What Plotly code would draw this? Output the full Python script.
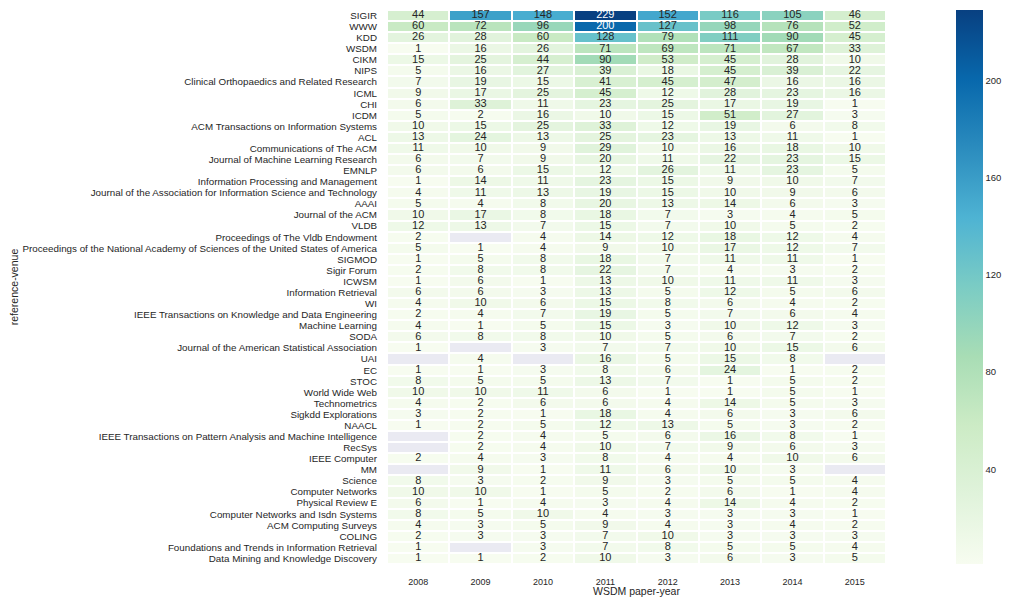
import plotly.graph_objects as go

years = ["2008", "2009", "2010", "2011", "2012", "2013", "2014", "2015"]

venues = [
    "SIGIR", "WWW", "KDD", "WSDM", "CIKM", "NIPS",
    "Clinical Orthopaedics and Related Research", "ICML", "CHI", "ICDM",
    "ACM Transactions on Information Systems", "ACL", "Communications of The ACM",
    "Journal of Machine Learning Research", "EMNLP",
    "Information Processing and Management",
    "Journal of the Association for Information Science and Technology",
    "AAAI", "Journal of the ACM", "VLDB", "Proceedings of The Vldb Endowment",
    "Proceedings of the National Academy of Sciences of the United States of America",
    "SIGMOD", "Sigir Forum", "ICWSM", "Information Retrieval", "WI",
    "IEEE Transactions on Knowledge and Data Engineering", "Machine Learning", "SODA",
    "Journal of the American Statistical Association", "UAI", "EC", "STOC",
    "World Wide Web", "Technometrics", "Sigkdd Explorations", "NAACL",
    "IEEE Transactions on Pattern Analysis and Machine Intelligence", "RecSys",
    "IEEE Computer", "MM", "Science", "Computer Networks", "Physical Review E",
    "Computer Networks and Isdn Systems", "ACM Computing Surveys", "COLING",
    "Foundations and Trends in Information Retrieval",
    "Data Mining and Knowledge Discovery",
]

counts = [
    [44, 157, 148, 229, 152, 116, 105, 46],
    [60, 72, 96, 200, 127, 98, 76, 52],
    [26, 28, 60, 128, 79, 111, 90, 45],
    [1, 16, 26, 71, 69, 71, 67, 33],
    [15, 25, 44, 90, 53, 45, 28, 10],
    [5, 16, 27, 39, 18, 45, 39, 22],
    [7, 19, 15, 41, 45, 47, 16, 16],
    [9, 17, 25, 45, 12, 28, 23, 16],
    [6, 33, 11, 23, 25, 17, 19, 1],
    [5, 2, 16, 10, 15, 51, 27, 3],
    [10, 15, 25, 33, 12, 19, 6, 8],
    [13, 24, 13, 25, 23, 13, 11, 1],
    [11, 10, 9, 29, 10, 16, 18, 10],
    [6, 7, 9, 20, 11, 22, 23, 15],
    [6, 6, 15, 12, 26, 11, 23, 5],
    [1, 14, 11, 23, 15, 9, 10, 7],
    [4, 11, 13, 19, 15, 10, 9, 6],
    [5, 4, 8, 20, 13, 14, 6, 3],
    [10, 17, 8, 18, 7, 3, 4, 5],
    [12, 13, 7, 15, 7, 10, 5, 2],
    [2, None, 4, 14, 12, 18, 12, 4],
    [5, 1, 4, 9, 10, 17, 12, 7],
    [1, 5, 8, 18, 7, 11, 11, 1],
    [2, 8, 8, 22, 7, 4, 3, 2],
    [1, 6, 1, 13, 10, 11, 11, 3],
    [6, 6, 3, 13, 5, 12, 5, 6],
    [4, 10, 6, 15, 8, 6, 4, 2],
    [2, 4, 7, 19, 5, 7, 6, 4],
    [4, 1, 5, 15, 3, 10, 12, 3],
    [6, 8, 8, 10, 5, 6, 7, 2],
    [1, None, 3, 7, 7, 10, 15, 6],
    [None, 4, None, 16, 5, 15, 8, None],
    [1, 1, 3, 8, 6, 24, 1, 2],
    [8, 5, 5, 13, 7, 1, 5, 2],
    [10, 10, 11, 6, 1, 1, 5, 1],
    [4, 2, 6, 6, 4, 14, 5, 3],
    [3, 2, 1, 18, 4, 6, 3, 6],
    [1, 2, 5, 12, 13, 5, 3, 2],
    [None, 2, 4, 5, 6, 16, 8, 1],
    [None, 2, 4, 10, 7, 9, 6, 3],
    [2, 4, 3, 8, 4, 4, 10, 6],
    [None, 9, 1, 11, 6, 10, 3, None],
    [8, 3, 2, 9, 3, 5, 5, 4],
    [10, 10, 1, 5, 2, 6, 1, 4],
    [6, 1, 4, 3, 4, 14, 4, 2],
    [8, 5, 10, 4, 3, 3, 3, 1],
    [4, 3, 5, 9, 4, 3, 4, 2],
    [2, 3, 3, 7, 10, 3, 3, 3],
    [1, None, 3, 7, 8, 5, 5, 4],
    [1, 1, 2, 10, 3, 6, 3, 5],
]

cbar_ticks = [40, 80, 120, 160, 200]

FONT = "Liberation Sans, Arial, sans-serif"
TXT = "#262626"

zmin = min(v for row in counts for v in row if v is not None)
zmax = max(v for row in counts for v in row if v is not None)

missing = [[1 if v is None else None for v in row] for row in counts]

fig = go.Figure()

fig.add_trace(go.Heatmap(
    z=missing, x=years, y=venues,
    colorscale=[[0, "#eaeaf2"], [1, "#eaeaf2"]],
    showscale=False, xgap=2, ygap=2, hoverinfo="skip",
))

fig.add_trace(go.Heatmap(
    z=counts, x=years, y=venues,
    colorscale="GnBu", zmin=zmin, zmax=zmax,
    xgap=2, ygap=2,
    colorbar=dict(
        thickness=27, len=1.0, lenmode="fraction",
        x=1.14, xanchor="left", xref="paper", y=0.5, yanchor="middle",
        outlinewidth=0, ticks="", tickvals=cbar_ticks,
        tickfont=dict(family=FONT, size=9.5, color=TXT),
        xpad=0, ypad=0,
    ),
))

# annotations as text
tx, ty, tt, tc = [], [], [], []
for i, row in enumerate(counts):
    for j, v in enumerate(row):
        if v is None:
            continue
        tx.append(years[j])
        ty.append(venues[i])
        tt.append(str(v))
        frac = (v - zmin) / (zmax - zmin)
        tc.append("white" if frac > 0.8 else TXT)

fig.add_trace(go.Scatter(
    x=tx, y=ty, text=tt, mode="text",
    textfont=dict(family=FONT, size=11, color=tc),
    hoverinfo="skip", showlegend=False, cliponaxis=False,
))

fig.update_layout(
    width=1000, height=589,
    margin=dict(l=379, r=122, t=2, b=33, autoexpand=False),
    plot_bgcolor="white", paper_bgcolor="white",
    font=dict(family=FONT, color=TXT),
    showlegend=False,
)
fig.update_xaxes(
    type="category", range=[-0.5, len(years) - 0.5], automargin=False,
    showgrid=False, zeroline=False, showline=False, ticks="",
    tickmode="array", tickvals=years,
    tickfont=dict(family=FONT, size=9, color=TXT),
    ticklabelstandoff=11,
    title=dict(text="WSDM paper-year", font=dict(family=FONT, size=10.5, color=TXT), standoff=4),
)
fig.update_yaxes(
    type="category", range=[len(venues) - 0.5, -0.5], automargin=False,
    showgrid=False, zeroline=False, showline=False, ticks="",
    tickmode="array", tickvals=venues,
    tickfont=dict(family=FONT, size=9.8, color=TXT),
    ticklabelstandoff=9,
    title=dict(text="reference-venue", font=dict(family=FONT, size=10.5, color=TXT), standoff=2),
)

fig.write_html("out.html")
